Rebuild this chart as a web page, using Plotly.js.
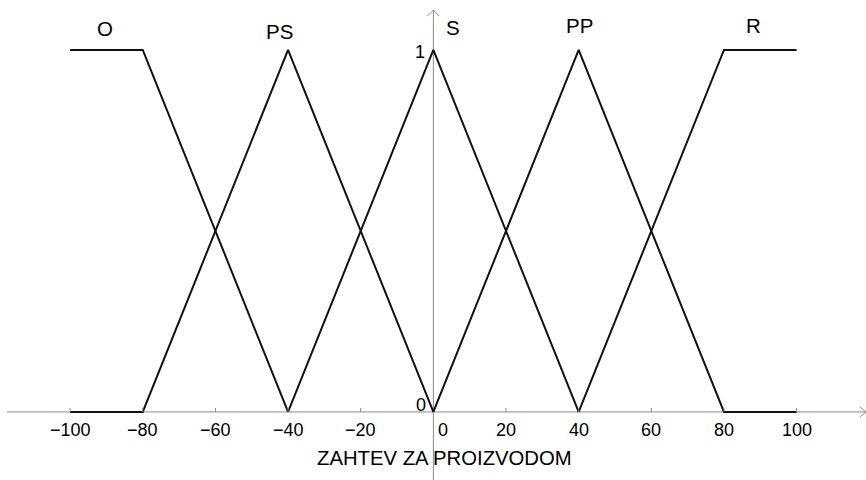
<!DOCTYPE html>
<html><head><meta charset="utf-8">
<script src="https://cdn.plot.ly/plotly-3.0.1.min.js"></script>
<style>html,body{margin:0;padding:0;background:#fff}#chart{width:866px;height:480px}</style>
</head><body><div id="chart"></div>
<script>
// Membership functions
const oX = [-100, -80, -40];
const oY = [1, 1, 0];
const psX = [-100, -80, -40, 0];
const psY = [0, 0, 1, 0];
const sX = [-40, 0, 40];
const sY = [0, 1, 0];
const ppX = [0, 40, 80, 100];
const ppY = [0, 1, 0, 0];
const rX = [40, 80, 100];
const rY = [0, 1, 1];

const setNames = ['O', 'PS', 'S', 'PP', 'R'];
const nameX = [-90.4, -42.3, 5.4, 40.1, 88.0];
const nameY = [1.058, 1.052, 1.062, 1.068, 1.068];

const xTickVals = [-100, -80, -60, -40, -20, 0, 20, 40, 60, 80, 100];
const xTickText = ['\u2212100', '\u221280', '\u221260', '\u221240', '\u221220', '0', '20', '40', '60', '80', '100'];
const yTickVals = [0, 1];
const yTickText = ['0', '1'];
const xTitle = 'ZAHTEV ZA PROIZVODOM';

const xRange = [-119.3, 119.1];
const yRange = [-0.188, 1.138];

const FONT = 'Liberation Sans, Arial, sans-serif';
const lineStyle = {color: '#111', width: 2};
const series = [[oX, oY], [psX, psY], [sX, sY], [ppX, ppY], [rX, rY]];
const data = series.map((s, i) => ({
  x: s[0], y: s[1], type: 'scatter', mode: 'lines', name: setNames[i],
  line: lineStyle, hoverinfo: 'skip', showlegend: false
}));

const axisColor = '#8a8a8a';
const shapes = [
  {type: 'line', xref: 'paper', x0: 0.008, x1: 1, yref: 'y', y0: 0, y1: 0, line: {color: axisColor, width: 1}, layer: 'below'},
  {type: 'line', xref: 'x', x0: 0, x1: 0, yref: 'paper', y0: 0, y1: 0.979, line: {color: axisColor, width: 1}, layer: 'below'},
  {type: 'path', xref: 'x', yref: 'y', xsizemode: 'pixel', ysizemode: 'pixel', xanchor: xRange[1], yanchor: 0,
   path: 'M-6,5 L0,0 L-6,-5', line: {color: axisColor, width: 1}},
  {type: 'path', xref: 'x', yref: 'y', xsizemode: 'pixel', ysizemode: 'pixel', xanchor: 0, yanchor: 1.110,
   path: 'M-6,-6 L0,0 L6,-6', line: {color: axisColor, width: 1}}
];
xTickVals.forEach(v => {
  if (v !== 0) shapes.push({type: 'line', xref: 'x', x0: v, x1: v, yref: 'y', ysizemode: 'pixel', yanchor: 0, y0: 0, y1: 4,
    line: {color: axisColor, width: 1}});
});

const annotations = [];
xTickVals.forEach((v, i) => {
  annotations.push({x: v, y: 0, xref: 'x', yref: 'y', text: xTickText[i], showarrow: false,
    xanchor: 'center', yanchor: 'middle', yshift: -18, xshift: v === 0 ? 10 : 0,
    font: {family: FONT, size: 18, color: '#000'}});
});
yTickVals.forEach((v, i) => {
  annotations.push({x: 0, y: v, xref: 'x', yref: 'y', text: yTickText[i], showarrow: false,
    xanchor: 'center', yanchor: 'middle', xshift: v === 0 ? -12 : -13, yshift: v === 0 ? 7 : -2,
    font: {family: FONT, size: 18, color: '#000'}});
});
annotations.push({x: 0, y: 0, xref: 'x', yref: 'y', text: xTitle, showarrow: false,
  xanchor: 'center', yanchor: 'middle', xshift: 11, yshift: -46, font: {family: FONT, size: 20.3, color: '#000'}});
setNames.forEach((n, i) => {
  annotations.push({x: nameX[i], y: nameY[i], xref: 'x', yref: 'y', text: n, showarrow: false,
    xanchor: 'center', yanchor: 'middle', font: {family: FONT, size: 20.5, color: '#000'}});
});

const layout = {
  width: 866, height: 480,
  margin: {l: 0, r: 0, t: 0, b: 0, pad: 0},
  paper_bgcolor: '#fff', plot_bgcolor: '#fff',
  xaxis: {range: xRange, showgrid: false, zeroline: false, showticklabels: false, ticks: '', showline: false, fixedrange: true},
  yaxis: {range: yRange, showgrid: false, zeroline: false, showticklabels: false, ticks: '', showline: false, fixedrange: true},
  shapes: shapes, annotations: annotations, showlegend: false
};
Plotly.newPlot('chart', data, layout, {displayModeBar: false, staticPlot: true});
</script>
</body></html>
